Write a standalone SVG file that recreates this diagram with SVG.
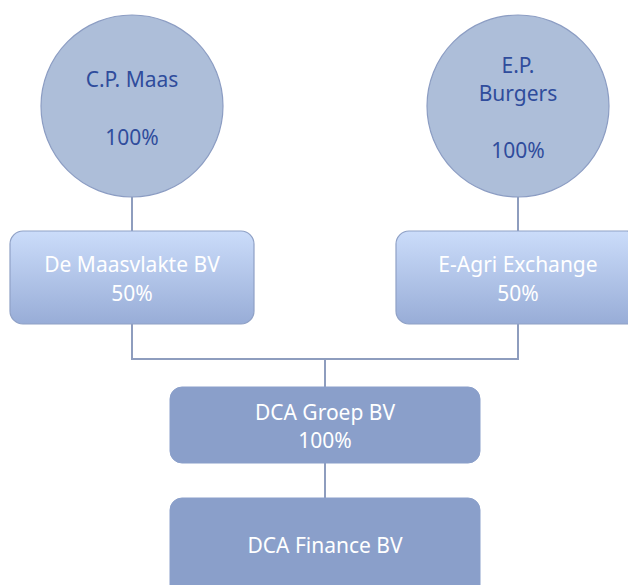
<svg xmlns="http://www.w3.org/2000/svg" width="628" height="585" viewBox="0 0 628 585">
<defs>
<linearGradient id="g1" x1="0" y1="0" x2="0" y2="1">
<stop offset="0" stop-color="#CBDCFA"/>
<stop offset="1" stop-color="#98ADD7"/>
</linearGradient>
<style>
.conn{fill:none;stroke:#8E9DBE;stroke-width:2}
.circ{fill:#ADBED9;stroke:#8C9DC3;stroke-width:1.2}
.lbox{fill:url(#g1);stroke:#8FA1C6;stroke-width:1.2}
.dbox{fill:#8A9FCA;stroke:#8A9FCA;stroke-width:1}
.t1{font-family:"Noto Sans","Open Sans",sans-serif;font-size:21px;fill:#2F4C9C;text-anchor:middle}
.t2{font-family:"Noto Sans","Open Sans",sans-serif;font-size:21px;fill:#FFFFFF;text-anchor:middle}
</style>
</defs>
<rect width="628" height="585" fill="#FFFFFF"/>
<g id="connectors">
<path class="conn" d="M132 197V231"/>
<path class="conn" d="M518 197V231"/>
<path class="conn" d="M132 324V359H518V324"/>
<path class="conn" d="M325 359V387"/>
<path class="conn" d="M325 463V498"/>
</g>
<g id="cp-maas">
<circle class="circ" cx="132" cy="106" r="91"/>
<text class="t1" x="132" y="87">C.P. Maas</text>
<text class="t1" x="132" y="145">100%</text>
</g>
<g id="ep-burgers">
<circle class="circ" cx="518" cy="106" r="91"/>
<text class="t1" x="518" y="73">E.P.</text>
<text class="t1" x="518" y="101">Burgers</text>
<text class="t1" x="518" y="158">100%</text>
</g>
<g id="de-maasvlakte">
<rect class="lbox" x="10" y="231" width="244" height="93" rx="13"/>
<text class="t2" x="132" y="272">De Maasvlakte BV</text>
<text class="t2" x="132" y="301">50%</text>
</g>
<g id="e-agri">
<rect class="lbox" x="396" y="231" width="244" height="93" rx="13"/>
<text class="t2" x="518" y="272">E-Agri Exchange</text>
<text class="t2" x="518" y="301">50%</text>
</g>
<g id="dca-groep">
<rect class="dbox" x="170" y="387" width="310" height="76" rx="12"/>
<text class="t2" x="325" y="420">DCA Groep BV</text>
<text class="t2" x="325" y="448">100%</text>
</g>
<g id="dca-finance">
<rect class="dbox" x="170" y="498" width="310" height="100" rx="12"/>
<text class="t2" x="325" y="553">DCA Finance BV</text>
</g>
</svg>
